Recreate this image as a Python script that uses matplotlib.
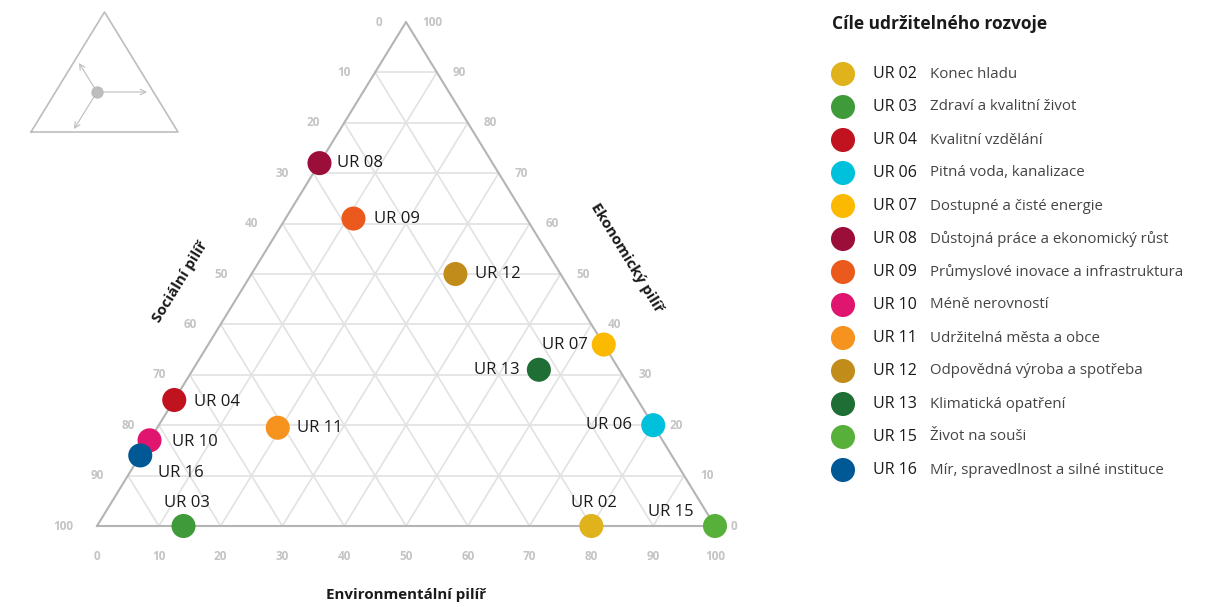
import numpy as np
import matplotlib
matplotlib.use("Agg")
from matplotlib import pyplot as plt

plt.rcParams["font.family"] = ["Open Sans", "DejaVu Sans"]

codes = ["UR 02", "UR 03", "UR 04", "UR 06", "UR 07", "UR 08", "UR 09",
         "UR 10", "UR 11", "UR 12", "UR 13", "UR 15", "UR 16"]
names = ["Konec hladu", "Zdraví a kvalitní život", "Kvalitní vzdělání",
         "Pitná voda, kanalizace", "Dostupné a čisté energie",
         "Důstojná práce a ekonomický růst", "Průmyslové inovace a infrastruktura",
         "Méně nerovností", "Udržitelná města a obce", "Odpovědná výroba a spotřeba",
         "Klimatická opatření", "Život na souši", "Mír, spravedlnost a silné instituce"]
environmental = [80, 14, 0, 80, 64, 0, 11, 0, 19.5, 33, 56, 100, 0]
economic = [0, 0, 25, 20, 36, 72, 61, 17, 19.5, 50, 31, 0, 14]
social = [100 - e - c for e, c in zip(environmental, economic)]
colors = ["#E0B21C", "#3F9A3A", "#C1121F", "#00C1DB", "#FBBA00", "#9B0E3A", "#EB5A1C",
          "#E0156F", "#F6921E", "#C18C1A", "#1F6E36", "#56B03A", "#005895"]
ticks = list(range(0, 101, 10))

# label offsets in pixels (dx, dy, ha) for each point
label_pos = {
    "UR 02": (3, 23, "center"), "UR 03": (3, 23, "center"), "UR 04": (20, -2, "left"),
    "UR 06": (-21, 0, "right"), "UR 07": (-16, 0, "right"), "UR 08": (18, 0, "left"),
    "UR 09": (21, 0, "left"), "UR 10": (22, -2, "left"), "UR 11": (19, 0, "left"),
    "UR 12": (20, 0, "left"), "UR 13": (-19, 0, "right"), "UR 15": (-21, 14, "right"),
    "UR 16": (18, -18, "left"),
}

W, H = 1219, 607
fig = plt.figure(figsize=(W / 100, H / 100), dpi=100)

# overlay axes in pixel coordinates for legend and the small icon
lax = fig.add_axes([0, 0, 1, 1])
lax.set_xlim(0, W)
lax.set_ylim(H, 0)
lax.axis("off")

# ternary axes: x = E + Ec/2, y = Ec
x0, x1, ytop, ybot = 97, 715, 22, 526
ax = fig.add_axes([x0 / W, (H - ybot) / H, (x1 - x0) / W, (ybot - ytop) / H])
ax.set_xlim(0, 100)
ax.set_ylim(0, 100)
ax.axis("off")


def to_xy(e, c):
    return np.asarray(e) + np.asarray(c) / 2, np.asarray(c)


grid_c = "#e2e2e2"
for k in ticks[1:-1]:
    # economic = k (horizontal)
    ax.plot([k / 2, 100 - k / 2], [k, k], color=grid_c, lw=1.2, zorder=1)
    # environmental = k
    ax.plot([k, k + (100 - k) / 2], [0, 100 - k], color=grid_c, lw=1.2, zorder=1)
    # social = k  -> e + c = 100 - k
    ax.plot([100 - k, (100 - k) / 2], [0, 100 - k], color=grid_c, lw=1.2, zorder=1)

ax.plot([0, 100, 50, 0], [0, 0, 100, 0], color="#b4b4b4", lw=1.5, zorder=2,
        clip_on=False)

tick_kw = dict(textcoords="offset pixels", color="#c4c4c4", fontsize=8.5,
               fontweight="bold", va="center")
for k in ticks:
    ax.annotate(str(k), (k, 0), xytext=(0, -30), ha="center", **tick_kw)
    ax.annotate(str(k), ((100 - k) / 2, 100 - k), xytext=(-24, 0), ha="right", **tick_kw)
    ax.annotate(str(k), (100 - k / 2, k), xytext=(16, 0), ha="left", **tick_kw)

ang = np.degrees(np.arctan2(ybot - ytop, (x1 - x0) / 2))
title_kw = dict(textcoords="offset pixels", ha="center", va="center", fontsize=10.9,
                fontweight="bold", color="#1a1a1a")
ax.annotate("Sociální pilíř", to_xy(0, 48.4), xytext=(-66, 0), rotation=ang, **title_kw)
ax.annotate("Ekonomický pilíř", to_xy(100 - 53.2, 53.2), xytext=(76, 0), rotation=-ang,
            **title_kw)
ax.annotate("Environmentální pilíř", (50, 0), xytext=(0, -69), **title_kw)

px, py = to_xy(environmental, economic)
ax.scatter(px, py, s=300, c=colors, zorder=5, clip_on=False, linewidths=0)
for code, x, y in zip(codes, px, py):
    dx, dy, ha = label_pos[code]
    ax.annotate(code, (x, y), xytext=(dx, dy), textcoords="offset pixels", ha=ha,
                va="center", fontsize=12, color="#1a1a1a", zorder=6)

# legend
lax.text(832, 24, "Cíle udržitelného rozvoje", fontsize=12.5, fontweight="bold",
         color="#1a1a1a", va="center", ha="left")
ly = 74 + 33 * np.arange(len(codes))
lax.scatter(np.full(len(codes), 843), ly, s=300, c=colors, linewidths=0)
for code, name, y in zip(codes, names, ly):
    lax.text(873, y, code, fontsize=11.5, color="#1a1a1a", va="center", ha="left")
    lax.text(930, y, name, fontsize=10.85, color="#444444", va="center", ha="left")

# small orientation icon
lax.plot([31, 178, 104.5, 31], [132, 132, 12, 132], color="#bdbdbd", lw=1.2)
arrow_kw = dict(arrowstyle="->", color="#bdbdbd", lw=0.8, shrinkA=0, shrinkB=0)
lax.annotate("", xy=(147, 92), xytext=(97, 92), arrowprops=arrow_kw)
lax.annotate("", xy=(79, 63), xytext=(97, 92), arrowprops=arrow_kw)
lax.annotate("", xy=(74, 129), xytext=(97, 92), arrowprops=arrow_kw)
lax.scatter([97], [92], s=80, color="#bdbdbd", linewidths=0, zorder=3)

fig.savefig("out.png", dpi=100)
